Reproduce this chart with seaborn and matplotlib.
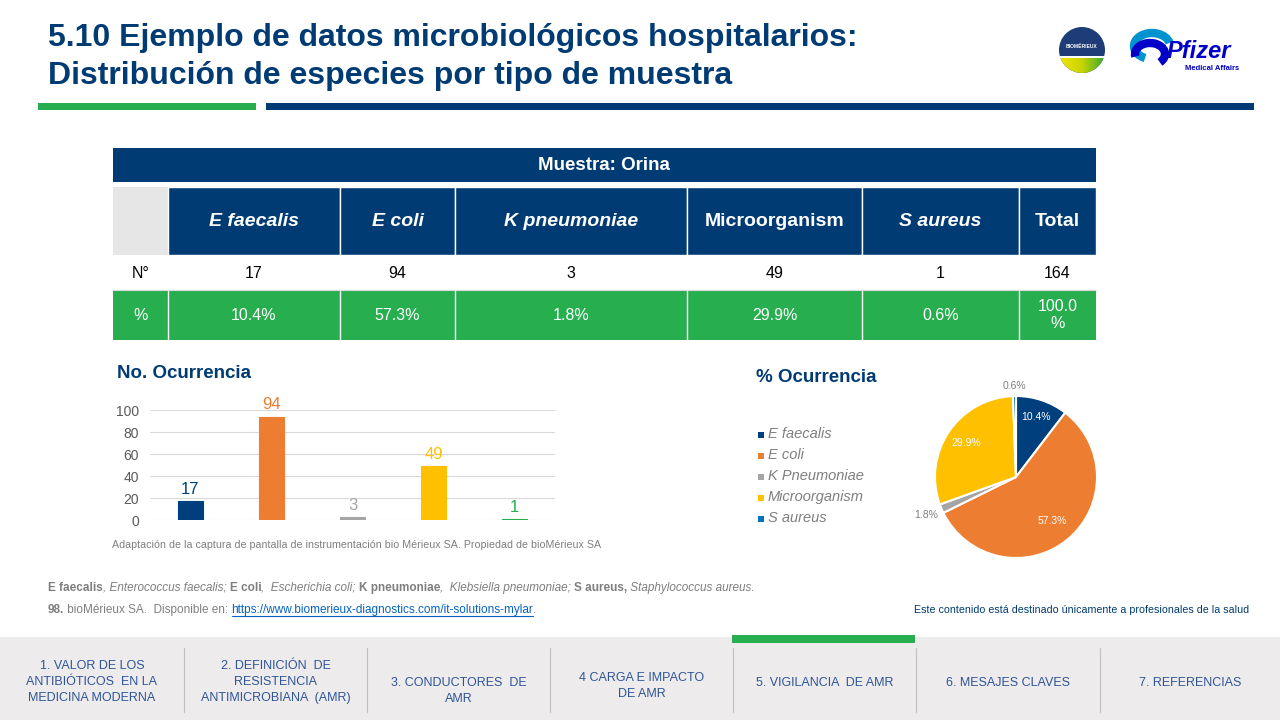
import numpy as np
import matplotlib
matplotlib.use("Agg")
import matplotlib.pyplot as plt
import matplotlib.patches as mpatches
import seaborn as sns

# Data
species = ["E faecalis", "E coli", "K pneumoniae", "Microorganism", "S aureus"]
legend_labels = ["E faecalis", "E coli", "K Pneumoniae", "Microorganism", "S aureus"]
header_italic = [True, True, True, False, True]
counts = [17, 94, 3, 49, 1]
total_count = 164
pct = [10.4, 57.3, 1.8, 29.9, 0.6]
pct_labels = ["10.4%", "57.3%", "1.8%", "29.9%", "0.6%"]
total_pct = "100.0\n%"
yticks = [0, 20, 40, 60, 80, 100]

bar_colors = ["#003f7d", "#ed7d31", "#a5a5a5", "#ffc000", "#27ae4f"]
pie_colors = ["#003f7d", "#ed7d31", "#a5a5a5", "#ffc000", "#0070c0"]

nav_labels = ["1. VALOR DE LOS\nANTIBIÓTICOS  EN LA\nMEDICINA MODERNA",
              "2. DEFINICIÓN  DE\nRESISTENCIA\nANTIMICROBIANA  (AMR)",
              "3. CONDUCTORES  DE\nAMR",
              "4 CARGA E IMPACTO\nDE AMR",
              "5. VIGILANCIA  DE AMR",
              "6. MESAJES CLAVES",
              "7. REFERENCIAS"]

NAVY = "#003b73"
GREEN = "#27ae4f"
GRAY_TXT = "#7f7f7f"

sns.set_theme(style="white")
plt.rcParams['font.family'] = ['Liberation Sans', 'DejaVu Sans']

fig = plt.figure(figsize=(12.8, 7.2), dpi=100)
bg = fig.add_axes([0, 0, 1, 1])
bg.set_xlim(0, 1280)
bg.set_ylim(720, 0)
bg.axis("off")
renderer = fig.canvas.get_renderer()

# Title
bg.text(48, 38, "5.10 Ejemplo de datos microbiológicos hospitalarios:", fontsize=23,
        fontweight="bold", color=NAVY, va="center")
bg.text(48, 76, "Distribución de especies por tipo de muestra", fontsize=23,
        fontweight="bold", color=NAVY, va="center")
bg.add_patch(mpatches.Rectangle((38, 103), 218, 7, color=GREEN, lw=0))
bg.add_patch(mpatches.Rectangle((266, 103), 988, 7, color=NAVY, lw=0))

# bioMerieux logo
circ = mpatches.Circle((1082, 50), 23, color="#1d3c78", lw=0)
bg.add_patch(circ)
grad = np.linspace(0, 1, 100).reshape(1, -1)
cmap = matplotlib.colors.LinearSegmentedColormap.from_list("bm", ["#f2e500", "#c8d400", "#3aa935"])
im = bg.imshow(grad, extent=(1059, 1105, 73, 58), cmap=cmap, aspect="auto", zorder=3)
im.set_clip_path(mpatches.Circle((1082, 50), 23, transform=bg.transData))
bg.add_patch(mpatches.Rectangle((1059, 56), 46, 2, color="white", lw=0, zorder=4))
bg.text(1082, 46, "BIOMÉRIEUX", fontsize=3.6, fontweight="bold", color="white",
        ha="center", va="center", zorder=5)
bg.set_xlim(0, 1280)
bg.set_ylim(720, 0)

# Pfizer logo
bg.add_patch(mpatches.Arc((1152, 46), 36, 26, theta1=120, theta2=350, lw=6, color="#0093d0"))
bg.add_patch(mpatches.Arc((1150, 54), 30, 22, theta1=170, theta2=400, lw=6, color="#0000c9"))
bg.text(1167, 52, "Pfizer", fontsize=17, fontweight="bold", fontstyle="italic",
        color="#0000c9", va="center")
bg.text(1239, 69, "Medical Affairs", fontsize=5.5, fontweight="bold", color="#0000c9",
        ha="right", va="center")

# Table
edges = [113, 168, 340, 455, 687, 862, 1019, 1096]
bg.add_patch(mpatches.Rectangle((113, 148), 983, 34, color=NAVY, lw=0))
bg.text(604, 166, "Muestra: Orina", fontsize=13.5, fontweight="bold", color="white",
        ha="center", va="center")
bg.add_patch(mpatches.Rectangle((113, 187), 55, 68, color="#e7e6e6", lw=0))
headers = species + ["Total"]
italics = header_italic + [False]
n_row = [str(c) for c in counts] + [str(total_count)]
p_row = pct_labels + [total_pct]
bg.add_patch(mpatches.Rectangle((113, 290), 983, 50, color=GREEN, lw=0))
bg.text(141, 273, "N°", fontsize=11.5, color="black", ha="center", va="center")
bg.text(141, 315, "%", fontsize=11.5, color="white", ha="center", va="center")
for i, (h, it, n, p) in enumerate(zip(headers, italics, n_row, p_row)):
    x0, x1 = edges[i + 1], edges[i + 2]
    bg.add_patch(mpatches.Rectangle((x0, 187), x1 - x0, 68, facecolor=NAVY,
                                    edgecolor="white", lw=1))
    xc = (x0 + x1) / 2
    bg.text(xc, 222, h, fontsize=14, fontweight="bold", color="white",
            fontstyle="italic" if it else "normal", ha="center", va="center")
    bg.text(xc, 273, n, fontsize=11.5, color="black", ha="center", va="center")
    bg.text(xc, 315, p, fontsize=11.5, color="white", ha="center", va="center",
            linespacing=1.1)
for x in edges[1:-1]:
    bg.plot([x, x], [290, 340], color="white", lw=1)
bg.plot([113, 1096], [290, 290], color="#d9d9d9", lw=0.8)

# Bar chart
bg.text(117, 373, "No. Ocurrencia", fontsize=13.5, fontweight="bold", color=NAVY, va="center")
ax = fig.add_axes([150 / 1280, (720 - 520) / 720, 405 / 1280, 110 / 720])
sns.barplot(x=species, y=counts, hue=species, palette=bar_colors, legend=False,
            width=0.32, saturation=1, ax=ax)
for p, col in zip(ax.patches, bar_colors):
    p.set_edgecolor(col)
    p.set_linewidth(0.8)
ax.set_ylim(0, 100)
ax.set_yticks(yticks)
ax.tick_params(axis="y", labelsize=10, labelcolor="#595959", length=0, pad=8)
ax.set_xticks([])
ax.set_xlabel("")
ax.set_ylabel("")
ax.grid(axis="y", color="#d9d9d9", lw=0.8)
ax.set_axisbelow(True)
sns.despine(ax=ax, left=True, bottom=True)
for cont, col in zip(ax.containers, bar_colors):
    ax.bar_label(cont, color=col, fontsize=12, padding=3, clip_on=False)
bg.text(112, 545, "Adaptación de la captura de pantalla de instrumentación bio Mérieux SA. "
        "Propiedad de bioMérieux SA", fontsize=7.7, color=GRAY_TXT, va="center")

# Pie chart
bg.text(756, 378, "% Ocurrencia", fontsize=13.5, fontweight="bold", color=NAVY, va="center")
for i, (lab, col) in enumerate(zip(legend_labels, pie_colors)):
    y = 434 + i * 21
    bg.add_patch(mpatches.Rectangle((758, y - 2), 6, 6, color=col, lw=0))
    bg.text(768, y, lab, fontsize=10.5, fontstyle="italic", color=GRAY_TXT, va="center")

pax = fig.add_axes([(1016 - 81) / 1280, (720 - 558) / 720, 162 / 1280, 162 / 720])
wedges, _ = pax.pie(pct, colors=pie_colors, startangle=90, counterclock=False,
                    wedgeprops=dict(edgecolor="white", linewidth=1.5))
pax.set_xlim(-1, 1)
pax.set_ylim(-1, 1)
lab_dist = [0.78, 0.70, 1.2, 0.74, 1.12]
for w, lab, d in zip(wedges, pct_labels, lab_dist):
    ang = np.deg2rad((w.theta1 + w.theta2) / 2)
    inside = d < 1
    pax.text(d * np.cos(ang), d * np.sin(ang), lab, fontsize=7.5,
             color="white" if inside else GRAY_TXT, ha="center", va="center")

# Footnotes
def runs(x, y, parts, size):
    for txt, weight, style, col in parts:
        t = bg.text(x, y, txt, fontsize=size, fontweight=weight, fontstyle=style,
                    color=col, va="center")
        bb = t.get_window_extent(renderer)
        if col == "#0563c1":
            bg.plot([x, x + bb.width], [y + 6, y + 6], color=col, lw=0.8)
        x += bb.width
    return x

sp = 3
x = 48
for bold, rest in [("E faecalis", ", Enterococcus faecalis;"), ("E coli", ",  Escherichia coli;"),
                   ("K pneumoniae", ",  Klebsiella pneumoniae;"), ("S aureus,", " Staphylococcus aureus.")]:
    x = runs(x, 588, [(bold, "bold", "normal", GRAY_TXT), (rest, "normal", "italic", GRAY_TXT)], 8.5) + sp
runs(48, 610, [("98.", "bold", "normal", GRAY_TXT),
               (" bioMérieux SA.  Disponible en: ", "normal", "normal", GRAY_TXT),
               ("https://www.biomerieux-diagnostics.com/it-solutions-mylar", "normal", "normal", "#0563c1"),
               (".", "normal", "normal", GRAY_TXT)], 8.5)
bg.text(1249, 610, "Este contenido está destinado únicamente a profesionales de la salud",
        fontsize=7.7, color=NAVY, ha="right", va="center")

# Bottom navigation
bg.add_patch(mpatches.Rectangle((0, 637), 1280, 83, color="#edebec", lw=0))
bg.add_patch(mpatches.Rectangle((732, 635), 183, 8, color=GREEN, lw=0))
seps = [184, 367, 550, 733, 916, 1100]
for s in seps:
    bg.plot([s, s], [648, 712], color="#bfbfbf", lw=0.8)
bounds = [0] + seps + [1280]
nav_y = [682, 682, 691, 686, 683, 683, 683]
for i, (lab, y) in enumerate(zip(nav_labels, nav_y)):
    bg.text((bounds[i] + bounds[i + 1]) / 2, y, lab, fontsize=9, color="#2f5597",
            ha="center", va="center", linespacing=1.45)

fig.savefig("out.png", dpi=100)
